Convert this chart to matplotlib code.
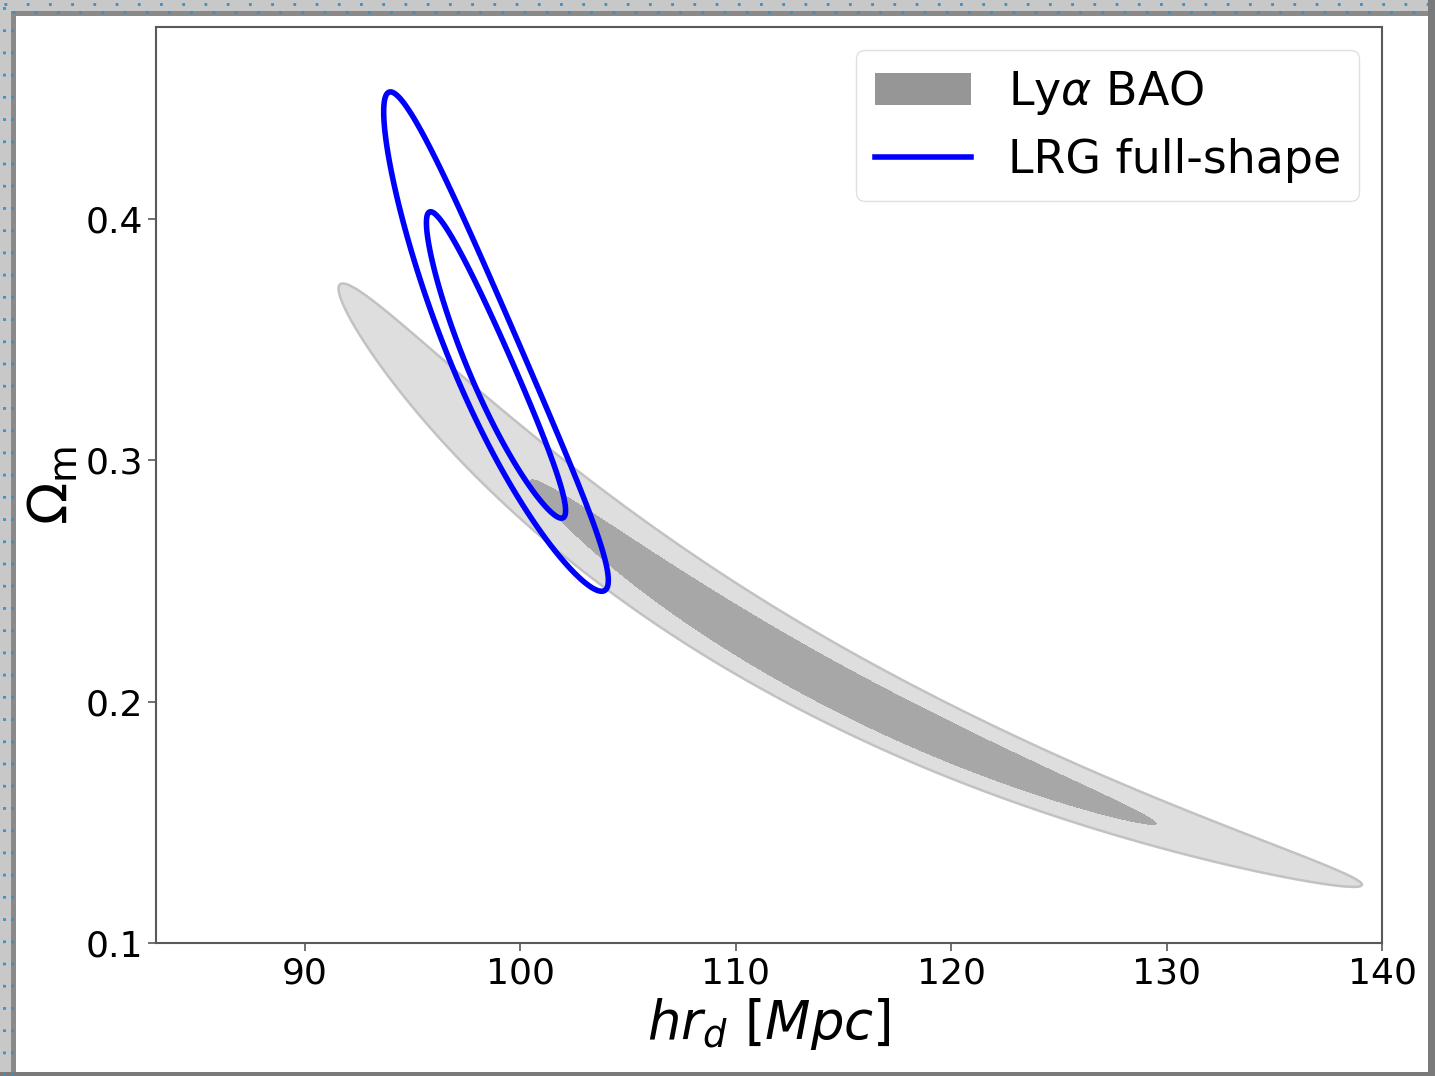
import numpy as np
import matplotlib
matplotlib.use("Agg")
from matplotlib import pyplot as plt
from matplotlib.patches import Patch, Rectangle
from matplotlib.lines import Line2D

matplotlib.rcParams["font.family"] = "DejaVu Sans"
matplotlib.rcParams["mathtext.fontset"] = "dejavusans"

# Ly-alpha BAO: split gaussian along the log-log degeneracy curve
bao_center = [116.05, 0.1995]    # (hr_d, Omega_m) at peak of the banana
bao_slope = -2.62                # d ln(Omega_m) / d ln(hr_d)
bao_sigma_left = 0.0953          # sigma along ln(hr_d), low hr_d side
bao_sigma_right = 0.0728         # sigma along ln(hr_d), high hr_d side
bao_sigma_perp = 0.034           # sigma across, in ln(Omega_m)
bao_levels = [2.30, 6.18]

# LRG full-shape: gaussian in (hr_d, ln Omega_m)
lrg_mean = [98.88, 0.3335]
lrg_sigma = [2.13, 0.1248]
lrg_rho = -0.94
lrg_levels = [2.30, 5.99]

x_ticks = [90, 100, 110, 120, 130, 140]
y_ticks = [0.1, 0.2, 0.3, 0.4]

fig = plt.figure(figsize=(14.35, 10.76), dpi=100)
ax = fig.add_axes([0.1087, 0.1236, 0.8544, 0.8513])

xg = np.linspace(83, 140, 900)
yg = np.linspace(0.1, 0.48, 900)
X, Y = np.meshgrid(xg, yg)

# BAO chi2
u = np.log(X) - np.log(bao_center[0])
w = np.log(Y) - (np.log(bao_center[1]) + bao_slope * u)
su = np.where(u < 0, bao_sigma_left, bao_sigma_right)
chi_bao = (u / su) ** 2 + (w / bao_sigma_perp) ** 2
ax.contourf(X, Y, chi_bao, levels=[0] + bao_levels,
            colors=["#a7a7a7", "#dedede"])
ax.contour(X, Y, chi_bao, levels=[bao_levels[1]], colors=["#c2c2c2"], linewidths=1.8)

# LRG chi2
dx = (X - lrg_mean[0]) / lrg_sigma[0]
dy = (np.log(Y) - np.log(lrg_mean[1])) / lrg_sigma[1]
chi_lrg = (dx ** 2 - 2 * lrg_rho * dx * dy + dy ** 2) / (1 - lrg_rho ** 2)
ax.contour(X, Y, chi_lrg, levels=lrg_levels, colors=["blue"], linewidths=4)

ax.set_xlim(83.1, 140)
ax.set_ylim(0.1, 0.4795)
ax.set_xticks(x_ticks)
ax.set_yticks(y_ticks)
ax.tick_params(labelsize=26, length=6, width=1.2, color="0.35")
for sp in ax.spines.values():
    sp.set_color("0.35")
    sp.set_linewidth(1.5)

ax.set_xlabel(r"$hr_d\ [Mpc]$", fontsize=38)
ax.set_ylabel(r"$\Omega_{\rm m}$", fontsize=40)

handles = [Patch(facecolor="#969696", label=r"Ly$\alpha$ BAO"),
           Line2D([], [], color="blue", lw=4, label="LRG full-shape")]
leg = ax.legend(handles=handles, loc="upper right", fontsize=33,
                handlelength=2.1, handletextpad=0.8, borderpad=0.4,
                labelspacing=0.45, framealpha=1, edgecolor="0.88",
                borderaxespad=0.5)

# screenshot frame
W, H = 1435, 1076
fig.patches.append(Rectangle((0, 0), 15 / W, 1, transform=fig.transFigure,
                             facecolor="#c8c8c8", edgecolor="none", zorder=-1))
fig.patches.append(Rectangle((11 / W, 0), 5 / W, 1 - 15 / H, transform=fig.transFigure,
                             facecolor="#8a8a8a", edgecolor="none", zorder=-1))
fig.patches.append(Rectangle((0, 1 - 15 / H), 1, 15 / H, transform=fig.transFigure,
                             facecolor="#c8c8c8", edgecolor="none", zorder=-1))
fig.patches.append(Rectangle((11 / W, 1 - 16 / H), 1, 5 / H, transform=fig.transFigure,
                             facecolor="#8a8a8a", edgecolor="none", zorder=-1))
fig.patches.append(Rectangle((1428 / W, 0), 7 / W, 1, transform=fig.transFigure,
                             facecolor="#7a7a7a", edgecolor="none", zorder=-1))
fig.patches.append(Rectangle((0, 0), 1, 4 / H, transform=fig.transFigure,
                             facecolor="#7a7a7a", edgecolor="none", zorder=-1))
for px in [4, 12]:
    fig.add_artist(Line2D([px / W, px / W], [0, 1 - px / H], transform=fig.transFigure,
                          color="#3d8ec4", lw=2, ls=(0, (1, 7))))
    fig.add_artist(Line2D([px / W, 1], [1 - px / H, 1 - px / H], transform=fig.transFigure,
                          color="#3d8ec4", lw=2, ls=(0, (1, 7))))

fig.savefig("out.png", dpi=100)
